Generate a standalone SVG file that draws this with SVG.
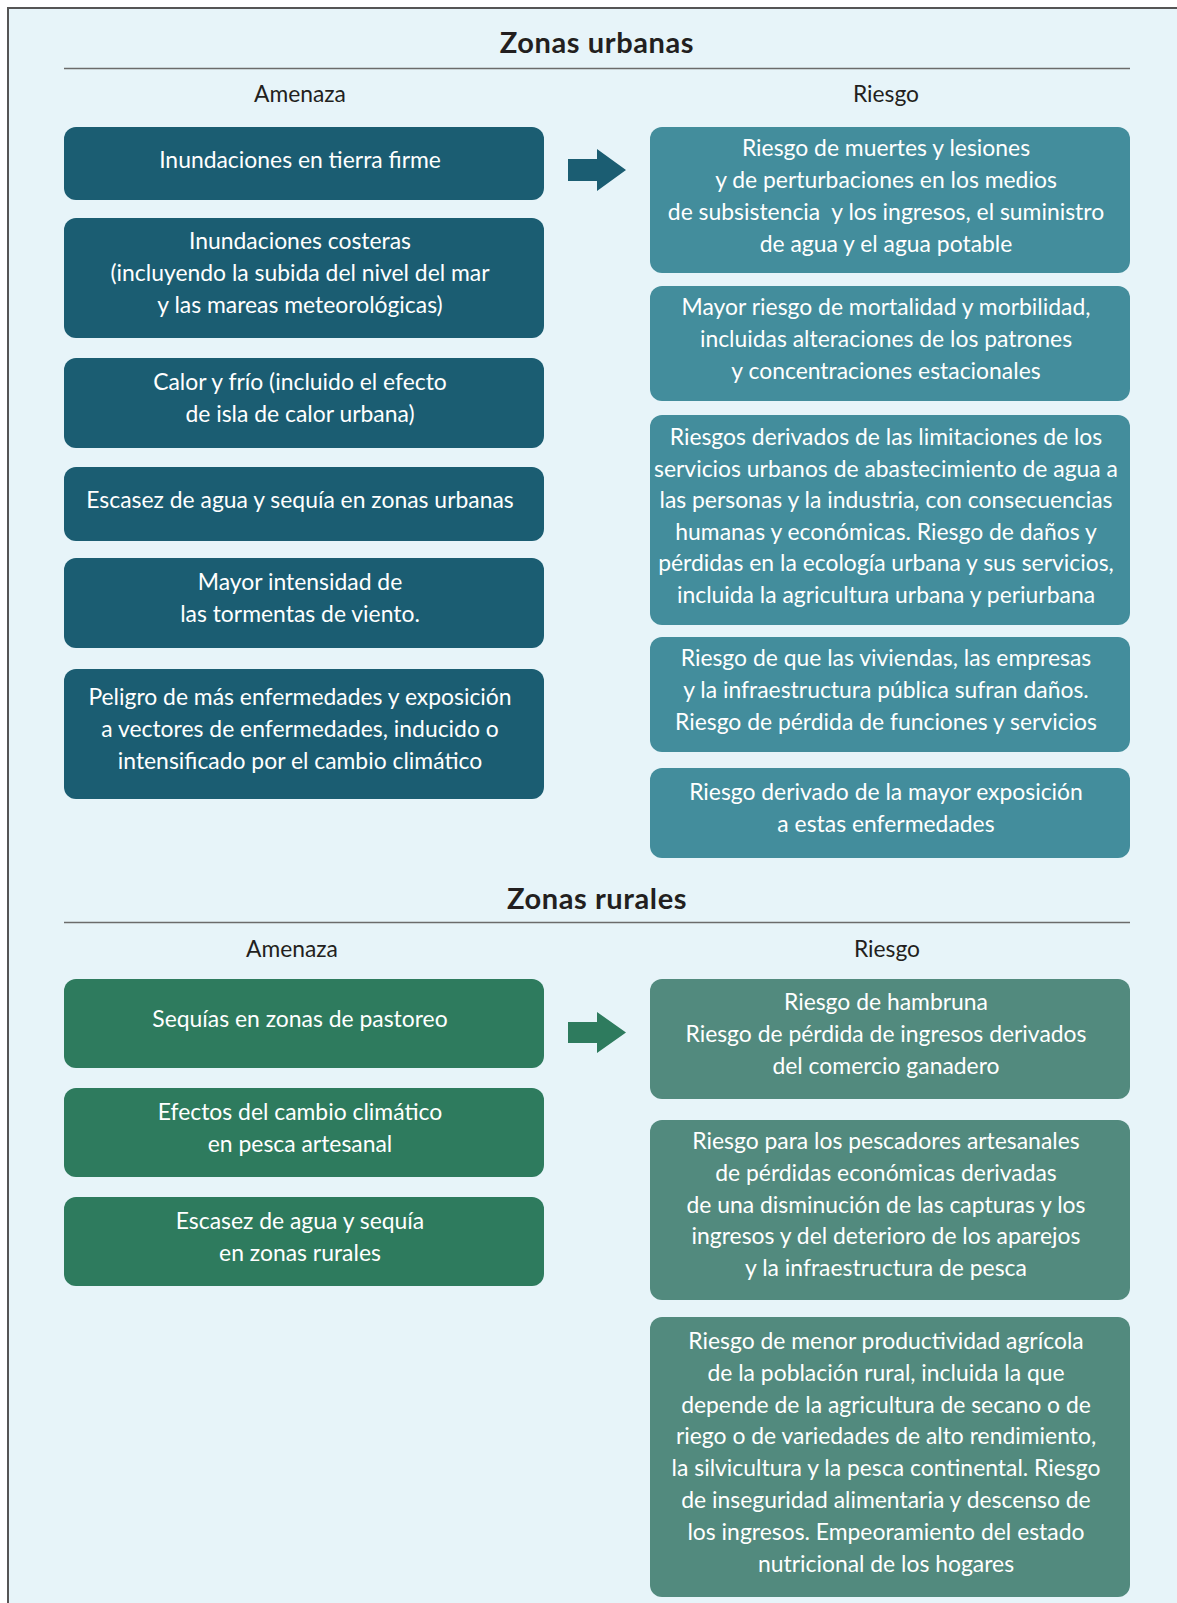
<svg xmlns="http://www.w3.org/2000/svg" width="1177" height="1603" viewBox="0 0 1177 1603">
<style>
.t{font-family:Lato,"Open Sans","Liberation Sans",sans-serif;font-size:22.9px;fill:#fff;text-anchor:middle}
.lbl{font-family:Lato,"Open Sans","Liberation Sans",sans-serif;font-size:22.8px;fill:#231f20;text-anchor:middle}
.ttl{font-family:Lato,"Open Sans","Liberation Sans",sans-serif;font-size:29px;letter-spacing:0.6px;font-weight:700;fill:#231f20;text-anchor:middle}
.ul{fill:#1b5d72}.ur{fill:#438d9c}.rl{fill:#2e7b5e}.rr{fill:#528a7e}
.sep{stroke:#6b6b6b;stroke-width:1.5}
</style>
<rect x="0" y="0" width="1177" height="1603" fill="#ffffff"/>
<rect x="8" y="8" width="1175" height="1600" fill="#e7f4f9"/>
<path d="M8 1603 V8 H1177" fill="none" stroke="#555" stroke-width="2"/>

<g id="urban-header">
<text class="ttl" x="597" y="53">Zonas urbanas</text>
<line class="sep" x1="64" y1="68.5" x2="1130" y2="68.5"/>
<text class="lbl" x="300" y="102">Amenaza</text>
<text class="lbl" x="886" y="102">Riesgo</text>
</g>

<g id="connectors">
<path class="ul" d="M568 159 H597 V149 L626 170 L597 191 V181 H568 Z"/>
<path class="rl" d="M568 1022 H597 V1012 L626 1032.5 L597 1053 V1043 H568 Z"/>
</g>

<g id="u-a1"><rect class="ul" x="64" y="127" width="480" height="73" rx="12"/>
<text class="t" x="300" y="167.5">Inundaciones en tierra firme</text></g>

<g id="u-a2"><rect class="ul" x="64" y="218" width="480" height="120" rx="12"/>
<text class="t" x="300" y="249">Inundaciones costeras</text>
<text class="t" x="300" y="281">(incluyendo la subida del nivel del mar</text>
<text class="t" x="300" y="313">y las mareas meteorológicas)</text></g>

<g id="u-a3"><rect class="ul" x="64" y="358" width="480" height="90" rx="12"/>
<text class="t" x="300" y="390">Calor y frío (incluido el efecto</text>
<text class="t" x="300" y="422">de isla de calor urbana)</text></g>

<g id="u-a4"><rect class="ul" x="64" y="467" width="480" height="74" rx="12"/>
<text class="t" x="300" y="508">Escasez de agua y sequía en zonas urbanas</text></g>

<g id="u-a5"><rect class="ul" x="64" y="558" width="480" height="90" rx="12"/>
<text class="t" x="300" y="590">Mayor intensidad de</text>
<text class="t" x="300" y="622">las tormentas de viento.</text></g>

<g id="u-a6"><rect class="ul" x="64" y="669" width="480" height="130" rx="12"/>
<text class="t" x="300" y="705">Peligro de más enfermedades y exposición</text>
<text class="t" x="300" y="737">a vectores de enfermedades, inducido o</text>
<text class="t" x="300" y="769">intensificado por el cambio climático</text></g>

<g id="u-r1"><rect class="ur" x="650" y="127" width="480" height="146" rx="12"/>
<text class="t" x="886" y="156">Riesgo de muertes y lesiones</text>
<text class="t" x="886" y="188">y de perturbaciones en los medios</text>
<text class="t" x="886" y="220">de subsistencia&#160; y los ingresos, el suministro</text>
<text class="t" x="886" y="252">de agua y el agua potable</text></g>

<g id="u-r2"><rect class="ur" x="650" y="286" width="480" height="115" rx="12"/>
<text class="t" x="886" y="315">Mayor riesgo de mortalidad y morbilidad,</text>
<text class="t" x="886" y="347">incluidas alteraciones de los patrones</text>
<text class="t" x="886" y="379">y concentraciones estacionales</text></g>

<g id="u-r3"><rect class="ur" x="650" y="415" width="480" height="210" rx="12"/>
<text class="t" x="886" y="445">Riesgos derivados de las limitaciones de los</text>
<text class="t" x="886" y="477">servicios urbanos de abastecimiento de agua a</text>
<text class="t" x="886" y="508">las personas y la industria, con consecuencias</text>
<text class="t" x="886" y="540">humanas y económicas. Riesgo de daños y</text>
<text class="t" x="886" y="571">pérdidas en la ecología urbana y sus servicios,</text>
<text class="t" x="886" y="603">incluida la agricultura urbana y periurbana</text></g>

<g id="u-r4"><rect class="ur" x="650" y="637" width="480" height="115" rx="12"/>
<text class="t" x="886" y="666">Riesgo de que las viviendas, las empresas</text>
<text class="t" x="886" y="698">y la infraestructura pública sufran daños.</text>
<text class="t" x="886" y="730">Riesgo de pérdida de funciones y servicios</text></g>

<g id="u-r5"><rect class="ur" x="650" y="768" width="480" height="90" rx="12"/>
<text class="t" x="886" y="800">Riesgo derivado de la mayor exposición</text>
<text class="t" x="886" y="832">a estas enfermedades</text></g>

<g id="rural-header">
<text class="ttl" x="597" y="909">Zonas rurales</text>
<line class="sep" x1="64" y1="922.5" x2="1130" y2="922.5"/>
<text class="lbl" x="292" y="957">Amenaza</text>
<text class="lbl" x="887" y="957">Riesgo</text>
</g>

<g id="r-a1"><rect class="rl" x="64" y="979" width="480" height="89" rx="12"/>
<text class="t" x="300" y="1027">Sequías en zonas de pastoreo</text></g>

<g id="r-a2"><rect class="rl" x="64" y="1088" width="480" height="89" rx="12"/>
<text class="t" x="300" y="1120">Efectos del cambio climático</text>
<text class="t" x="300" y="1152">en pesca artesanal</text></g>

<g id="r-a3"><rect class="rl" x="64" y="1197" width="480" height="89" rx="12"/>
<text class="t" x="300" y="1229">Escasez de agua y sequía</text>
<text class="t" x="300" y="1261">en zonas rurales</text></g>

<g id="r-r1"><rect class="rr" x="650" y="979" width="480" height="120" rx="12"/>
<text class="t" x="886" y="1010">Riesgo de hambruna</text>
<text class="t" x="886" y="1042">Riesgo de pérdida de ingresos derivados</text>
<text class="t" x="886" y="1074">del comercio ganadero</text></g>

<g id="r-r2"><rect class="rr" x="650" y="1120" width="480" height="180" rx="12"/>
<text class="t" x="886" y="1149">Riesgo para los pescadores artesanales</text>
<text class="t" x="886" y="1181">de pérdidas económicas derivadas</text>
<text class="t" x="886" y="1213">de una disminución de las capturas y los</text>
<text class="t" x="886" y="1244">ingresos y del deterioro de los aparejos</text>
<text class="t" x="886" y="1276">y la infraestructura de pesca</text></g>

<g id="r-r3"><rect class="rr" x="650" y="1317" width="480" height="280" rx="12"/>
<text class="t" x="886" y="1349">Riesgo de menor productividad agrícola</text>
<text class="t" x="886" y="1381">de la población rural, incluida la que</text>
<text class="t" x="886" y="1413">depende de la agricultura de secano o de</text>
<text class="t" x="886" y="1444">riego o de variedades de alto rendimiento,</text>
<text class="t" x="886" y="1476">la silvicultura y la pesca continental. Riesgo</text>
<text class="t" x="886" y="1508">de inseguridad alimentaria y descenso de</text>
<text class="t" x="886" y="1540">los ingresos. Empeoramiento del estado</text>
<text class="t" x="886" y="1572">nutricional de los hogares</text></g>
</svg>
